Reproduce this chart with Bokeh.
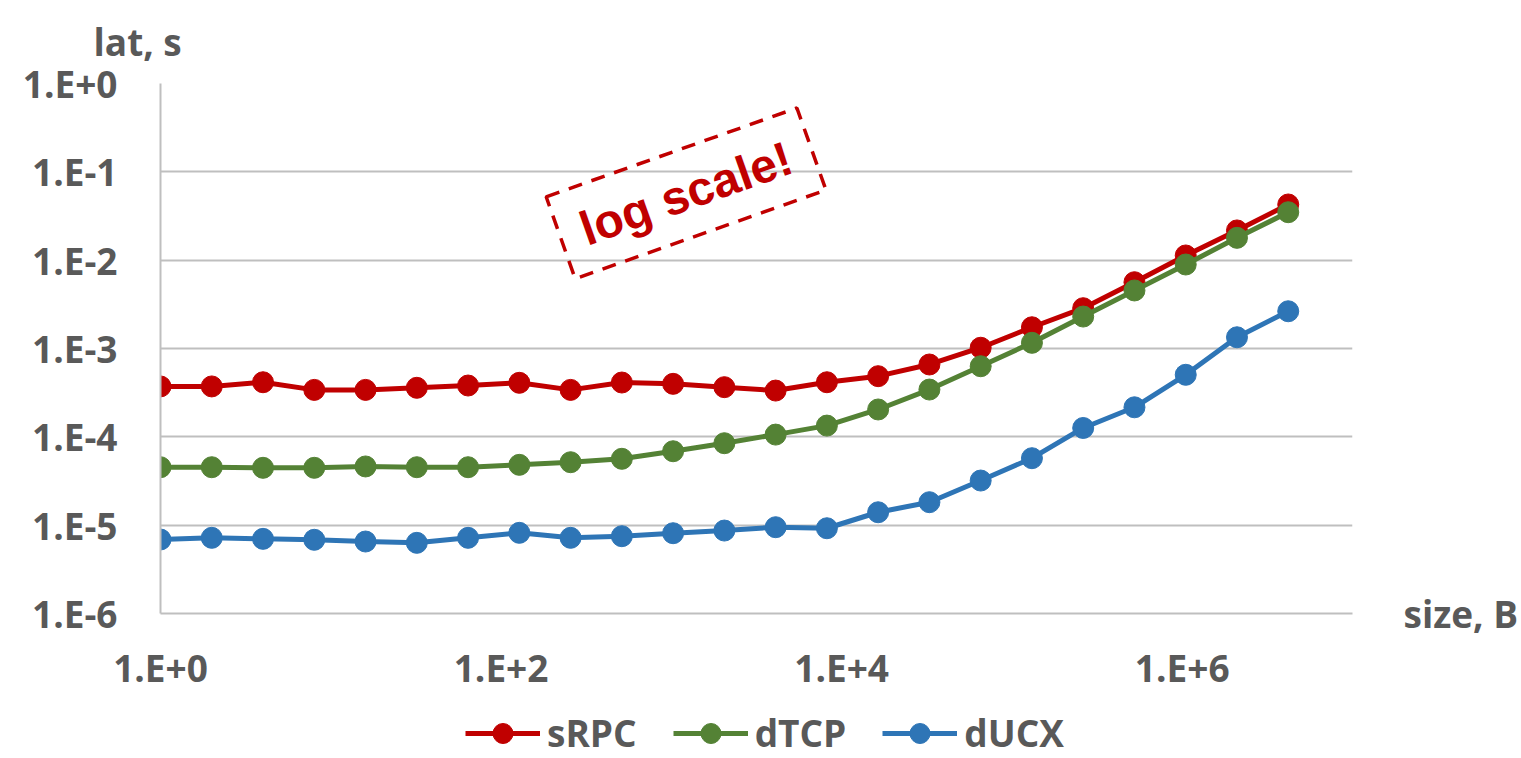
import math
from bokeh.plotting import figure
from bokeh.layouts import column
from bokeh.models import (Range1d, FixedTicker, CustomJSTickFormatter, LogAxis,
                          Legend, LegendItem)
from bokeh.core.properties import value
from bokeh.embed import file_html
from bokeh.resources import INLINE

# ---------------- data ----------------
sizes = [1, 2, 4, 8, 16, 32, 64, 128, 256, 512, 1024, 2048, 4096, 8192,
         16384, 32768, 65536, 131072, 262144, 524288, 1048576, 2097152, 4194304]

srpc = [3.72e-4, 3.72e-4, 4.15e-4, 3.40e-4, 3.40e-4, 3.59e-4, 3.81e-4, 4.09e-4,
        3.40e-4, 4.12e-4, 3.98e-4, 3.65e-4, 3.34e-4, 4.15e-4, 4.86e-4, 6.59e-4,
        1.02e-3, 1.74e-3, 2.86e-3, 5.63e-3, 1.13e-2, 2.17e-2, 4.27e-2]

dtcp = [4.53e-5, 4.53e-5, 4.46e-5, 4.46e-5, 4.62e-5, 4.53e-5, 4.53e-5, 4.82e-5,
        5.16e-5, 5.64e-5, 6.87e-5, 8.47e-5, 1.06e-4, 1.34e-4, 2.04e-4, 3.43e-4,
        6.30e-4, 1.16e-3, 2.30e-3, 4.54e-3, 8.93e-3, 1.79e-2, 3.49e-2]

ducx = [6.88e-6, 7.19e-6, 7.00e-6, 6.83e-6, 6.53e-6, 6.31e-6, 7.19e-6, 8.19e-6,
        7.19e-6, 7.50e-6, 8.11e-6, 8.69e-6, 9.48e-6, 9.23e-6, 1.40e-5, 1.82e-5,
        3.20e-5, 5.73e-5, 1.26e-4, 2.16e-4, 5.04e-4, 1.34e-3, 2.64e-3]

series_names = ["sRPC", "dTCP", "dUCX"]
series_colors = ["#C00000", "#548235", "#2E75B6"]

x_ticks = [1, 1e2, 1e4, 1e6]
x_tick_labels = ["1.E+0", "1.E+2", "1.E+4", "1.E+6"]
y_ticks = [1, 1e-1, 1e-2, 1e-3, 1e-4, 1e-5, 1e-6]
y_tick_labels = ["1.E+0", "1.E-1", "1.E-2", "1.E-3", "1.E-4", "1.E-5", "1.E-6"]

y_title = "lat, s"
x_title = "size, B"

annot_text = "log scale!"
annot_x = 1.22e3
annot_y = 5.7e-2

# ---------------- styling ----------------
FONT = "Open Sans"
TXT = "#595959"
GRID = "#BFBFBF"
FS = "37px"

W, H1, H2 = 1521, 708, 50
p = figure(width=W, height=H1, x_axis_type="log", y_axis_type="log",
           x_range=Range1d(1, 1e7), y_range=Range1d(1e-6, 1),
           output_backend="svg", toolbar_location=None,
           min_border_left=160, min_border_right=W - 1355,
           min_border_top=83, min_border_bottom=H1 - 613)
p.outline_line_color = None
p.background_fill_color = "white"
p.border_fill_color = "white"

fmt_code = """
let best = 0, bd = 1e9;
for (let i = 0; i < tk.length; i++) {
  const d = Math.abs(Math.log10(tk[i]) - Math.log10(tick));
  if (d < bd) { bd = d; best = i; }
}
return lb[best];
"""

def style_axis(ax):
    ax.major_tick_line_color = None
    ax.minor_tick_line_color = None
    ax.major_label_text_font = FONT
    ax.major_label_text_font_style = "bold"
    ax.major_label_text_font_size = FS
    ax.major_label_text_color = TXT

for ax, tks, labels in ((p.xaxis[0], x_ticks, x_tick_labels),
                        (p.yaxis[0], y_ticks, y_tick_labels)):
    ax.ticker = FixedTicker(ticks=tks, minor_ticks=[])
    ax.formatter = CustomJSTickFormatter(args=dict(tk=tks, lb=labels),
                                         code=fmt_code)
    style_axis(ax)
    ax.axis_line_color = GRID
    ax.axis_line_width = 2

p.xaxis.major_label_standoff = 22
p.yaxis.major_label_standoff = 37

# x-axis title to the right of the plot, level with the bottom axis
rax = LogAxis(ticker=FixedTicker(ticks=[y_ticks[-1]], minor_ticks=[]),
              formatter=CustomJSTickFormatter(args=dict(t=x_title),
                                              code="return t;"),
              axis_line_color=None, major_label_standoff=45)
style_axis(rax)
p.add_layout(rax, "right")

# y-axis title above the plot
p.title.text = y_title
p.title.align = "left"
p.title.vertical_align = "top"
p.title.offset = -67
p.title.text_font = FONT
p.title.text_font_style = "bold"
p.title.text_font_size = FS
p.title.text_color = TXT
p.title.standoff = 30

p.xgrid.grid_line_color = None
p.ygrid.ticker = FixedTicker(ticks=y_ticks, minor_ticks=[])
p.ygrid.grid_line_color = GRID
p.ygrid.grid_line_width = 2

for col, ys in zip(series_colors, [srpc, dtcp, ducx]):
    p.line(sizes, ys, line_color=col, line_width=5)
    p.scatter(sizes, ys, size=21, fill_color=col, line_color=col)

# annotation
p.rect(x=[annot_x], y=[annot_y], width=266, height=87,
       width_units="screen", height_units="screen",
       angle=math.radians(19.5), fill_color=None, line_color="#C00000",
       line_width=3.5, line_dash="14 10")
p.text(x=[annot_x], y=[annot_y], text=[annot_text], angle=math.radians(19.5),
       text_font=value("Liberation Sans"), text_font_style="bold",
       text_font_size="48px", text_color="#C00000",
       text_align="center", text_baseline="middle")

# ---------------- legend strip ----------------
p2 = figure(width=W, height=H2, output_backend="svg", toolbar_location=None,
            x_axis_location=None, y_axis_location=None,
            x_range=Range1d(0, 1), y_range=Range1d(0, 1),
            min_border_left=0, min_border_right=0,
            min_border_top=0, min_border_bottom=0)
p2.outline_line_color = None
p2.grid.visible = False
items = []
for name, col in zip(series_names, series_colors):
    # legend proxies, placed outside the visible range of the strip
    lr = p2.line([-9, -8], [-9, -9], line_color=col, line_width=5)
    sr = p2.scatter([-9], [-9], size=21, fill_color=col, line_color=col)
    items.append(LegendItem(label=name, renderers=[lr, sr]))

legend = Legend(items=items, orientation="horizontal", location=(305, 0),
                glyph_width=75, glyph_height=50, label_height=50,
                label_standoff=7, spacing=36, padding=0, margin=0,
                border_line_color=None, background_fill_alpha=0,
                label_text_font=FONT, label_text_font_style="bold",
                label_text_font_size=FS, label_text_color=TXT)
p2.add_layout(legend)

layout = column(p, p2, spacing=0)
open("out.html", "w").write(file_html(layout, INLINE))
